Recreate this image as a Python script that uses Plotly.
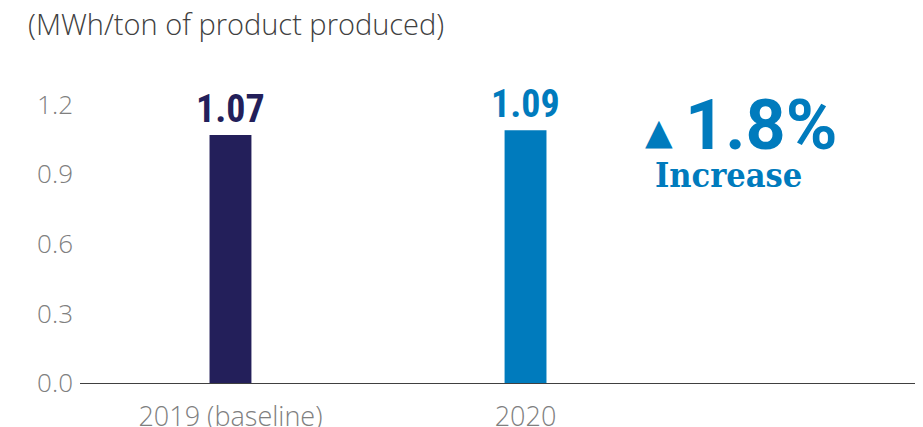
import plotly.graph_objects as go

categories = ["2019 (baseline)", "2020"]
values = [1.07, 1.09]
labels = ["1.07", "1.09"]
colors = ["#231F5A", "#007BBD"]
y_ticks = [0.0, 0.3, 0.6, 0.9, 1.2]
change_text = "1.8%"

fig = go.Figure()
fig.add_trace(go.Bar(
    x=[0, 1], y=values, width=0.142,
    marker=dict(color=colors, line=dict(width=0)),
    hoverinfo="skip",
))

for i, (v, lab, c) in enumerate(zip(values, labels, colors)):
    fig.add_annotation(x=i, y=v, text="<b>" + lab + "</b>", showarrow=False,
                       yanchor="bottom", yshift=2,
                       font=dict(family="Roboto Condensed, Roboto", size=38, color=c))

# change callout
fig.add_annotation(xref="paper", x=0.712, xanchor="right", yref="y", y=1.083,
                   text="▲", showarrow=False,
                   font=dict(family="DejaVu Sans", size=36, color="#007BBD"))
fig.add_annotation(xref="paper", x=0.722, xanchor="left", yref="y", y=1.113,
                   text="<b>" + change_text + "</b>", showarrow=False,
                   font=dict(family="Roboto", size=70, color="#007BBD"))
fig.add_annotation(xref="paper", x=0.777, xanchor="center", yref="y", y=0.898,
                   text="<b>Increase</b>", showarrow=False,
                   font=dict(family="DejaVu Serif Condensed, DejaVu Serif", size=34, color="#007BBD"))

# the page body adds an 8px offset, so margins are shifted to compensate
fig.update_layout(
    width=923, height=427,
    margin=dict(l=72, r=16, t=62, b=52),
    paper_bgcolor="white", plot_bgcolor="white",
    showlegend=False,
    title=dict(text="(MWh/ton of product produced)", x=0.0217, xanchor="left",
               y=0.96, yanchor="middle",
               font=dict(family="Open Sans", size=29, color="#404040", weight=300)),
    xaxis=dict(
        range=[-0.51, 2.32], tickvals=[0, 1], ticktext=categories, automargin=False,
        showgrid=False, zeroline=False, showline=True, linecolor="#404040", linewidth=1,
        ticks="", ticklabelstandoff=10,
        tickfont=dict(family="Open Sans", size=27, color="#7F7F7F", weight=300),
    ),
    yaxis=dict(
        range=[0, 1.35], tickvals=y_ticks, ticktext=["%.1f" % t for t in y_ticks],
        automargin=False, showgrid=False, zeroline=False, showline=False, ticks="",
        ticklabelstandoff=6,
        tickfont=dict(family="Open Sans", size=26, color="#7F7F7F", weight=300),
    ),
)

fig.write_html("out.html")
